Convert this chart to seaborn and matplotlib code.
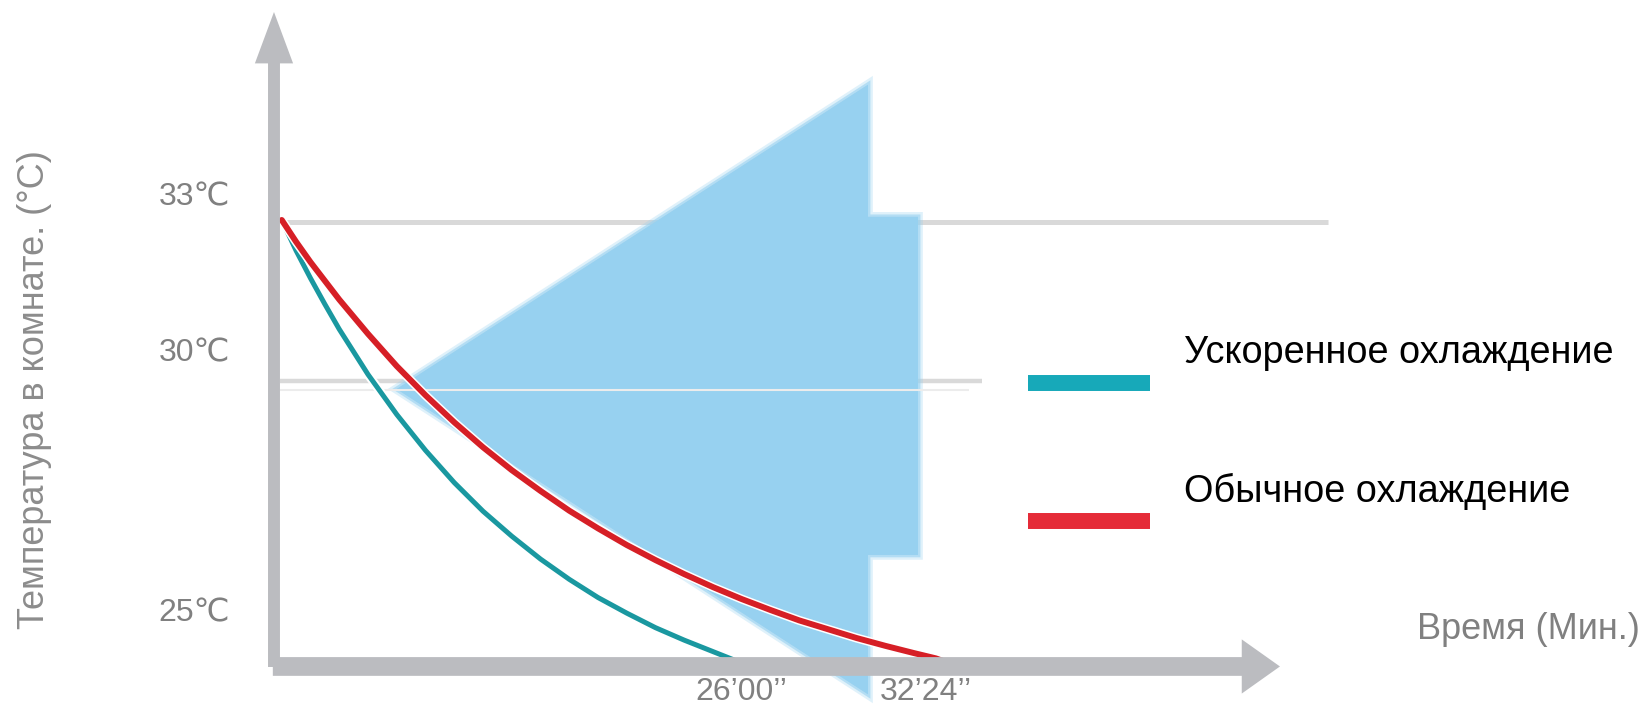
import numpy as np
import pandas as pd
import matplotlib
matplotlib.use("Agg")
import matplotlib.pyplot as plt
import seaborn as sns
from matplotlib.patches import FancyArrowPatch, Polygon
import matplotlib.patheffects as pe

# ---------------- data (minutes, °C) ----------------
fast_time = [10.0, 10.5, 11.0, 11.5, 12.0, 13.0, 14.0, 15.0, 16.0, 17.0, 18.0, 19.0,
             20.0, 21.0, 22.0, 23.0, 24.0, 25.0, 26.0]
fast_temp = [32.50, 31.91, 31.38, 30.88, 30.40, 29.53, 28.76, 28.07, 27.45, 26.90,
             26.42, 25.98, 25.59, 25.24, 24.94, 24.66, 24.42, 24.20, 23.98]
normal_time = [10.0, 10.5, 11.0, 11.5, 12.0, 13.0, 14.0, 15.0, 16.0, 17.0, 18.0, 19.0,
               20.0, 21.0, 22.0, 23.0, 24.0, 25.0, 26.0, 27.0, 28.0, 29.0, 30.0, 31.0,
               32.0, 32.75, 33.2]
normal_temp = [32.50, 32.08, 31.69, 31.33, 30.97, 30.31, 29.69, 29.13, 28.61, 28.13,
               27.69, 27.29, 26.91, 26.57, 26.25, 25.96, 25.69, 25.44, 25.21, 25.00,
               24.80, 24.63, 24.46, 24.31, 24.17, 24.07, 23.98]

series_names = ["Ускоренное охлаждение", "Обычное охлаждение"]
y_tick_values = [25, 30, 33]
y_tick_labels = ["25℃", "30℃", "33℃"]
x_tick_values = [26.0, 32.4]
x_tick_labels = ["26’00’’", "32’24’’"]
y_title = "Температура в комнате. (°C)"
x_title = "Время (Мин.)"

# ---------------- style ----------------
sns.set_theme(style="white")
plt.rcParams["font.family"] = ["Liberation Sans", "DejaVu Sans"]

AXIS_GRAY = "#bbbcc0"
GRID_GRAY = "#d9d9d9"
BLUE = "#97d1f0"
TEAL_LINE = "#1a98a0"
TEAL_SWATCH = "#17a9b9"
RED_LINE = "#d61f26"
RED_SWATCH = "#e52b38"
TEXT_GRAY = "#808080"

W, H = 1650, 708
fig = plt.figure(figsize=(W / 100, H / 100), dpi=100)
# axes: left edge on the y-axis shaft, bottom on the x-axis bar
ax = fig.add_axes([274 / W, (H - 667) / H, (W - 274) / W, 667 / H])
PX_PER_MIN = 28.75
PX_PER_DEG = 52.0
ax.set_xlim(0.2 + 274 / PX_PER_MIN, 0.2 + W / PX_PER_MIN)
ax.set_ylim(30 - 317 / PX_PER_DEG, 30 + 350 / PX_PER_DEG)
for s in ax.spines.values():
    s.set_visible(False)
ax.set_facecolor("white")

# reference lines
ax.plot([10.0, 46.39], [32.46, 32.46], color=GRID_GRAY, lw=3.6, zorder=0.5,
        solid_capstyle="butt")
ax.plot([9.94, 34.36], [29.40, 29.40], color=GRID_GRAY, lw=3.2, zorder=0.5,
        solid_capstyle="butt")
ax.plot([9.94, 33.90], [29.23, 29.23], color="#ececec", lw=1.5, zorder=1.5,
        solid_capstyle="butt")

# big left-pointing blue arrow
arrow_pts = [(14.0, 29.25), (30.39, 35.10), (30.39, 32.56), (32.13, 32.56),
             (32.13, 26.06), (30.39, 26.06), (30.39, 23.38)]
poly = Polygon(arrow_pts, closed=True, facecolor=BLUE, edgecolor="none", zorder=1,
               clip_on=False)
poly.set_path_effects([pe.Stroke(linewidth=7, foreground=BLUE, alpha=0.3),
                       pe.Stroke(linewidth=3.5, foreground=BLUE, alpha=0.6),
                       pe.Normal()])
ax.add_patch(poly)

# curves
df_fast = pd.DataFrame({"t": fast_time, "T": fast_temp})
df_norm = pd.DataFrame({"t": normal_time, "T": normal_temp})
halo = [pe.Stroke(linewidth=6.5, foreground="white"), pe.Normal()]
sns.lineplot(data=df_fast, x="t", y="T", ax=ax, color=TEAL_LINE, lw=3.6,
             legend=False, zorder=3, path_effects=halo, sort=False)
sns.lineplot(data=df_norm, x="t", y="T", ax=ax, color=RED_LINE, lw=4.3,
             legend=False, zorder=3.1, path_effects=halo, sort=False)

# axis arrows
y_arrow = FancyArrowPatch((9.73, 23.904), (9.73, 36.5),
                          arrowstyle="simple,head_length=37,head_width=27.5,tail_width=8.6",
                          mutation_scale=1, color=AXIS_GRAY, lw=0, zorder=4,
                          shrinkA=0, shrinkB=0, clip_on=False)
x_arrow = FancyArrowPatch((9.69, 23.914), (44.72, 23.914),
                          arrowstyle="simple,head_length=27.5,head_width=39,tail_width=13.5",
                          mutation_scale=1, color=AXIS_GRAY, lw=0, zorder=4,
                          shrinkA=0, shrinkB=0, clip_on=False)
ax.add_patch(y_arrow)
ax.add_patch(x_arrow)

# ticks
ax.set_yticks(y_tick_values)
ax.set_yticklabels(y_tick_labels)
ax.set_xticks(x_tick_values)
ax.set_xticklabels(x_tick_labels)
ax.tick_params(axis="y", length=0, pad=31.5, labelsize=23, labelcolor=TEXT_GRAY)
ax.tick_params(axis="x", length=0, pad=7.5, labelsize=23, labelcolor=TEXT_GRAY)
ax.set_xlabel("")
ax.set_ylabel("")

# axis titles
ax.text(1.417, 29.23, y_title, rotation=90, ha="center", va="center",
        fontsize=26, color="#8c8c8c", clip_on=False)
ax.text(49.49, 24.62, x_title, ha="left", va="center", fontsize=26,
        color=TEXT_GRAY)

# legend
ax.plot([35.96, 40.20], [29.365, 29.365], color=TEAL_SWATCH, lw=11.5,
        solid_capstyle="butt", zorder=3)
ax.plot([35.96, 40.20], [26.712, 26.712], color=RED_SWATCH, lw=11.5,
        solid_capstyle="butt", zorder=3)
ax.text(41.38, 29.94, series_names[0], ha="left", va="center", fontsize=27.3,
        color="black")
ax.text(41.38, 27.27, series_names[1], ha="left", va="center", fontsize=27.3,
        color="black")

fig.savefig("out.png", dpi=100, facecolor="white")
